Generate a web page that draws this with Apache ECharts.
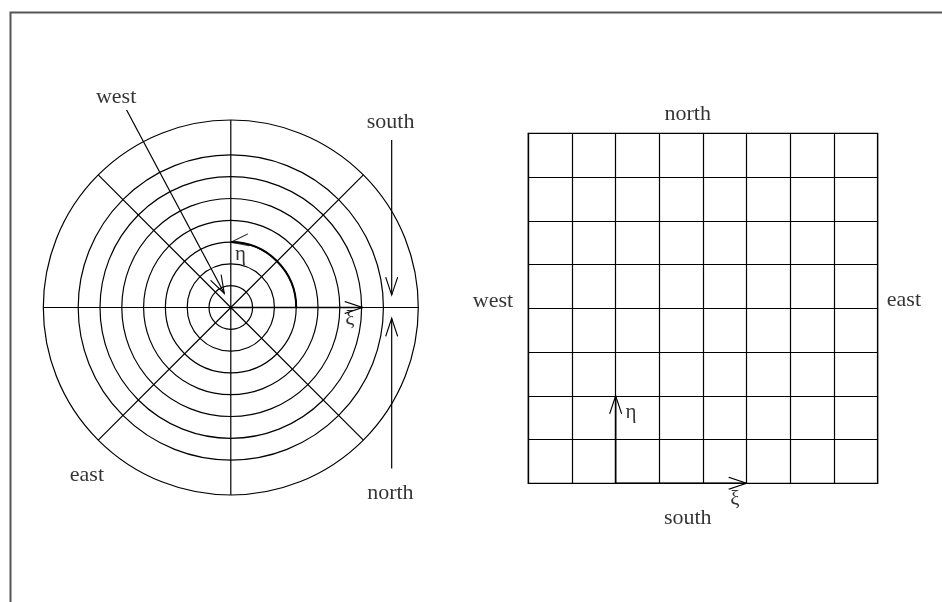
<!DOCTYPE html>
<html>
<head>
<meta charset="utf-8">
<script src="https://cdn.jsdelivr.net/npm/echarts@6/dist/echarts.min.js"></script>
<style>
  html, body { margin: 0; padding: 0; background: #fff; }
  #main { width: 942px; height: 602px; }
</style>
</head>
<body>
<div id="main"></div>
<script>
// left panel: polar grid, units = one ring step
var ringCount = 7;
var outerRing = 8.6;
var spokeStep = 45;
var etaArc = [0, 90]; // degrees, on ring 3
var etaRing = 3;

// straight arrows in the left panel [from, to]
var westArrow = [[-4.78, 9.06], [-0.30, 0.65]];
var southArrow = [[7.38, 7.68], [7.38, 0.57]];
var northArrow = [[7.38, -7.38], [7.38, -0.50]];
var xiArrowPolar = [[0, 0], [6.05, 0]];

var leftLabels = [
  { name: "west", value: [-5.26, 9.66] },
  { name: "south", value: [7.33, 8.52] },
  { name: "north", value: [7.32, -8.52] },
  { name: "east", value: [-6.6, -7.68] }
];
var leftGreek = [
  { name: "η", value: [0.45, 2.41] },
  { name: "ξ", value: [5.47, -0.57] }
];

// right panel: 8 x 8 cartesian grid
var cells = 8;
var etaArrowGrid = [[2, 0], [2, 2]];
var xiArrowGrid = [[2, 0], [5, 0]];
var rightLabels = [
  { name: "north", value: [3.65, 8.43] },
  { name: "south", value: [3.65, -0.79] },
  { name: "west", value: [-0.81, 4.16] },
  { name: "east", value: [8.6, 4.18] }
];
var rightGreek = [
  { name: "η", value: [2.35, 1.61] },
  { name: "ξ", value: [4.73, -0.38] }
];

var chart = echarts.init(document.getElementById("main"));

var cx = 230.8, cy = 307.5, step = 21.8;
var headPath = "path://M0,18 L6,0 L12,18";
var font = "Liberation Serif";
var ink = { color: "#000", width: 1.2 };

// open V head at the end of a segment; rot/off are screen-space
function arrow(pts, gridIdx, rot, off, width) {
  return {
    type: "line",
    xAxisIndex: gridIdx,
    yAxisIndex: gridIdx,
    silent: true,
    clip: false,
    showSymbol: true,
    lineStyle: { color: "#000", width: width || 1.2 },
    data: [
      { value: pts[0], symbol: "none" },
      {
        value: pts[1],
        symbol: headPath,
        symbolSize: [12, 18],
        symbolRotate: rot,
        symbolOffset: off,
        itemStyle: { color: "none", borderColor: "#000", borderWidth: 1.3 }
      }
    ]
  };
}

function labels(data, gridIdx, size) {
  return {
    type: "scatter",
    xAxisIndex: gridIdx,
    yAxisIndex: gridIdx,
    silent: true,
    clip: false,
    symbolSize: 0,
    label: {
      show: true,
      position: "inside",
      formatter: "{b}",
      color: "#000",
      fontFamily: font,
      fontSize: size
    },
    data: data
  };
}

var option = {
  animation: false,
  graphic: [
    {
      type: "rect",
      left: 8,
      top: 10,
      shape: { width: 1000, height: 700 },
      style: { fill: "none", stroke: "#555", lineWidth: 2 },
      silent: true
    }
  ],
  polar: [
    { center: [cx, cy], radius: outerRing * step },
    { center: [cx, cy], radius: ringCount * step },
    { center: [cx, cy], radius: etaRing * step }
  ],
  angleAxis: [
    {
      polarIndex: 0, type: "value", min: 0, max: 360, interval: spokeStep,
      startAngle: 0, clockwise: false,
      axisLine: { show: true, lineStyle: ink },
      axisTick: { show: false }, axisLabel: { show: false },
      splitLine: { show: true, lineStyle: ink }
    },
    {
      polarIndex: 1, type: "value", min: 0, max: 360,
      axisLine: { show: false }, axisTick: { show: false },
      axisLabel: { show: false }, splitLine: { show: false }
    },
    {
      polarIndex: 2, type: "value", min: etaArc[0], max: etaArc[1],
      startAngle: etaArc[1], endAngle: etaArc[0],
      axisLine: { show: true, lineStyle: { color: "#000", width: 2 } },
      axisTick: { show: false }, axisLabel: { show: false },
      splitLine: { show: false }
    }
  ],
  radiusAxis: [
    { polarIndex: 0, min: 0, max: 1, axisLine: { show: false }, axisTick: { show: false }, axisLabel: { show: false }, splitLine: { show: false } },
    {
      polarIndex: 1, min: 0, max: ringCount, interval: 1,
      axisLine: { show: false }, axisTick: { show: false }, axisLabel: { show: false },
      splitLine: { show: true, lineStyle: ink }
    },
    { polarIndex: 2, min: 0, max: 1, axisLine: { show: false }, axisTick: { show: false }, axisLabel: { show: false }, splitLine: { show: false } }
  ],
  grid: [
    { left: cx - 10 * step, top: cy - 10 * step, width: 20 * step, height: 20 * step, show: false },
    {
      left: 528.3, top: 133.3, width: 349.4, height: 350,
      show: true, borderColor: "#000", borderWidth: 1.2, backgroundColor: "transparent"
    }
  ],
  xAxis: [
    { gridIndex: 0, type: "value", min: -10, max: 10, show: false },
    {
      gridIndex: 1, type: "value", min: 0, max: cells, interval: 1,
      axisLine: { show: true, onZero: false, lineStyle: ink },
      axisTick: { show: false }, axisLabel: { show: false },
      splitLine: { show: true, lineStyle: ink }
    }
  ],
  yAxis: [
    { gridIndex: 0, type: "value", min: -10, max: 10, show: false },
    {
      gridIndex: 1, type: "value", min: 0, max: cells, interval: 1,
      axisLine: { show: true, onZero: false, lineStyle: ink },
      axisTick: { show: false }, axisLabel: { show: false },
      splitLine: { show: true, lineStyle: ink }
    }
  ],
  series: [
    arrow(westArrow, 0, -152, [-4.2, -7.9]),
    arrow(southArrow, 0, 180, [0, -9]),
    arrow(northArrow, 0, 0, [0, 9]),
    arrow(xiArrowPolar, 0, -90, [-9, 0], 1.6),
    // head of the eta arc, at the top of ring 3, pointing left
    {
      type: "scatter",
      xAxisIndex: 0, yAxisIndex: 0, silent: true, clip: false,
      symbol: headPath, symbolSize: [12, 18], symbolRotate: 98, symbolOffset: [9, -1],
      itemStyle: { color: "none", borderColor: "#000", borderWidth: 1.3 },
      data: [[0, etaRing]]
    },
    labels(leftLabels, 0, 22),
    labels(leftGreek, 0, 21),
    arrow(etaArrowGrid, 1, 0, [0, 9], 1.6),
    arrow(xiArrowGrid, 1, -90, [-9, 0], 1.6),
    labels(rightLabels, 1, 22),
    labels(rightGreek, 1, 21)
  ]
};

chart.setOption(option);
window.addEventListener("resize", function () {
  chart.resize();
});
</script>
</body>
</html>
